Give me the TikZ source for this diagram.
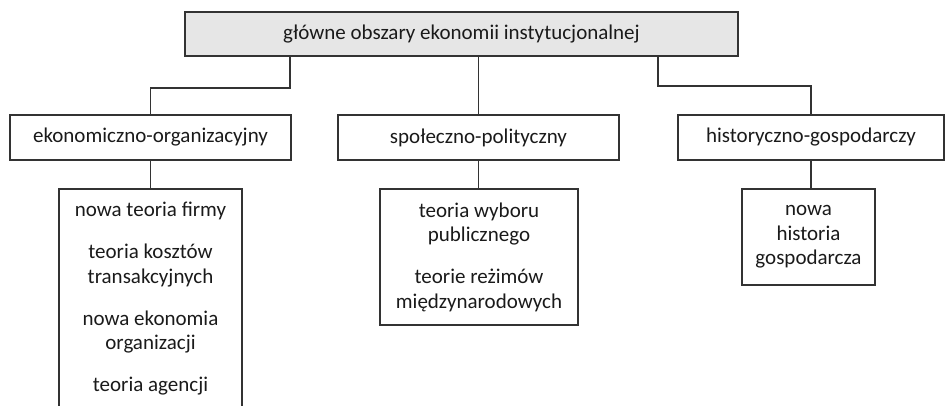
\documentclass[tikz,border=0pt]{standalone}
\usepackage{fontspec}
\setmainfont{Carlito}
\definecolor{edge}{HTML}{333333}
\definecolor{ink}{HTML}{1A1A1A}
\definecolor{headfill}{HTML}{E6E6E6}
\begin{document}
\begin{tikzpicture}[x=1pt,y=-1pt,
  every node/.style={font=\fontsize{21}{24.5}\selectfont, text=ink, inner sep=0pt},
  box/.style={draw=edge, line width=1.3pt, align=center},
  link/.style={draw=edge, line width=1.3pt}]
  \clip (0,0) rectangle (945,406);
  \useasboundingbox (0,0) rectangle (945,406);
  \newcommand{\groupgap}{\\[17.5pt]}

  % root
  \node[box, fill=headfill, minimum width=553, minimum height=44] (root) at (461.5,34)
    {główne obszary ekonomii instytucjonalnej};

  % three areas
  \node[box, minimum width=281, minimum height=45] (eko) at (150.5,137.5) {ekonomiczno-organizacyjny};
  \node[box, minimum width=281, minimum height=45] (spo) at (478.5,137.5) {społeczno-polityczny};
  \node[box, minimum width=266, minimum height=45] (his) at (811,137.5) {historyczno-gospodarczy};

  % theories in each area
  \node[box, minimum width=183, minimum height=220] (teko) at (150.5,299)
    {nowa teoria firmy\groupgap teoria kosztów\\transakcyjnych\groupgap nowa ekonomia\\organizacji\groupgap teoria agencji};
  \node[box, minimum width=198, minimum height=136] (tspo) at (479,257)
    {teoria wyboru\\publicznego\groupgap teorie reżimów\\międzynarodowych};
  \node[box, minimum width=133, minimum height=96] (this) at (808.5,237)
    {nowa\\historia\\gospodarcza};

  % connectors
  \coordinate (rl) at (290,56);
  \coordinate (rr) at (658,56);
  \draw[link] (rl) -- ++(0,32) -| (eko.north);
  \draw[link] (root.south -| spo.north) -- (spo.north);
  \draw[link] (rr) -- ++(0,30) -| (his.north);
  \draw[link] (eko.south) -- (eko.south |- teko.north);
  \draw[link] (spo.south) -- (spo.south |- tspo.north);
  \draw[link] (his.south) -- (his.south |- this.north);
\end{tikzpicture}
\end{document}
